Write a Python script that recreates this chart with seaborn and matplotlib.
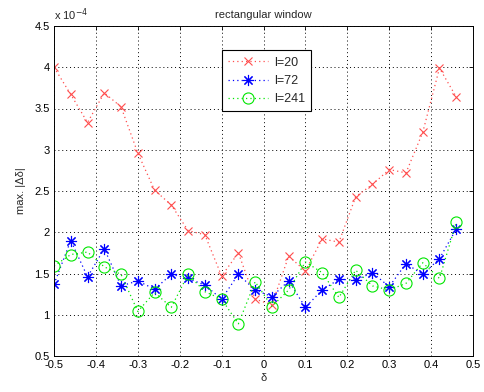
import matplotlib
matplotlib.use("Agg")
import matplotlib.pyplot as plt
import seaborn as sns
import numpy as np

# x positions (delta)
delta = [-0.50, -0.46, -0.42, -0.38, -0.34, -0.30, -0.26, -0.22, -0.18, -0.14,
         -0.10, -0.06, -0.02, 0.02, 0.06, 0.10, 0.14, 0.18, 0.22, 0.26,
         0.30, 0.34, 0.38, 0.42, 0.46]

# values in units of 1e-4
l20 = [4.00, 3.67, 3.33, 3.69, 3.52, 2.96, 2.51, 2.33, 2.02, 1.97,
       1.47, 1.75, 1.19, 1.12, 1.71, 1.53, 1.92, 1.88, 2.43, 2.58,
       2.76, 2.72, 3.21, 3.99, 3.64]
l72 = [1.37, 1.90, 1.46, 1.80, 1.35, 1.41, 1.31, 1.49, 1.44, 1.36,
       1.19, 1.49, 1.30, 1.22, 1.41, 1.09, 1.30, 1.43, 1.42, 1.51,
       1.34, 1.62, 1.49, 1.68, 2.04]
l241 = [1.59, 1.73, 1.76, 1.58, 1.49, 1.04, 1.27, 1.09, 1.49, 1.28,
        1.19, 0.89, 1.40, 1.10, 1.30, 1.64, 1.51, 1.21, 1.54, 1.35,
        1.30, 1.38, 1.63, 1.44, 2.12]

labels = ["l=20", "l=72", "l=241"]
xticks = [-0.5, -0.4, -0.3, -0.2, -0.1, 0, 0.1, 0.2, 0.3, 0.4, 0.5]
yticks = [0.5, 1, 1.5, 2, 2.5, 3, 3.5, 4, 4.5]

sns.set_style("white")
plt.rcParams['font.family'] = ['Liberation Sans', 'DejaVu Sans']
plt.rcParams['font.size'] = 8

fig = plt.figure(figsize=(4.85, 3.92), dpi=100)
ax = fig.add_axes([54/485, 36/392, 419/485, 330/392])

styles = [
    dict(color=(1, 0.3, 0.3), marker='x', ms=6, mfc=(1, 0.3, 0.3)),
    dict(color=(0, 0, 1), marker=(8, 2, 0), ms=8, mfc=(0, 0, 1)),
    dict(color=(0, 0.9, 0), marker='o', ms=8, mfc='none'),
]
handles = []
for ys, lab, st in zip([l20, l72, l241], labels, styles):
    n_before = len(ax.lines)
    sns.lineplot(x=delta, y=ys, ax=ax, color=st['color'], linestyle=(0, (1, 2.5)),
                 linewidth=0.9, legend=False)
    line = ax.lines[n_before]
    line.set_marker(st['marker'])
    line.set_markersize(st['ms'])
    line.set_markeredgewidth(0.8)
    line.set_markeredgecolor(st['color'])
    line.set_markerfacecolor(st['mfc'])
    line.set_label(lab)
    handles.append(line)

ax.set_xlim(-0.5, 0.5)
ax.set_ylim(0.5, 4.5)
ax.set_xticks(xticks)
ax.set_xticklabels(["-0.5", "-0.4", "-0.3", "-0.2", "-0.1", "0", "0.1", "0.2", "0.3", "0.4", "0.5"])
ax.set_yticks(yticks)
ax.set_yticklabels(["0.5", "1", "1.5", "2", "2.5", "3", "3.5", "4", "4.5"])
ax.grid(True, color='black', linestyle=(0, (1, 3)), linewidth=0.7)
ax.tick_params(direction='in', length=3, width=0.6, top=True, right=True,
               labelsize=8, pad=3, colors='black')
for s in ax.spines.values():
    s.set_color('black')
    s.set_linewidth(0.7)

ax.set_title("rectangular window", fontsize=8, pad=6)
ax.set_xlabel("δ", fontsize=8, labelpad=2)
ax.set_ylabel("max. |Δδ|", fontsize=8, labelpad=6)
ax.text(0.0, 1.01, "x 10$^{-4}$", transform=ax.transAxes, fontsize=8,
        ha='left', va='bottom')

leg = ax.legend(handles=handles, labels=labels, loc='upper left',
                bbox_to_anchor=(0.385, 0.945), fontsize=9,
                frameon=True, fancybox=False, edgecolor='black', framealpha=1,
                handlelength=3.2, borderpad=0.5, labelspacing=0.5, handletextpad=0.5)
leg.get_frame().set_linewidth(0.8)

fig.savefig("out.png", dpi=100, facecolor='white')
